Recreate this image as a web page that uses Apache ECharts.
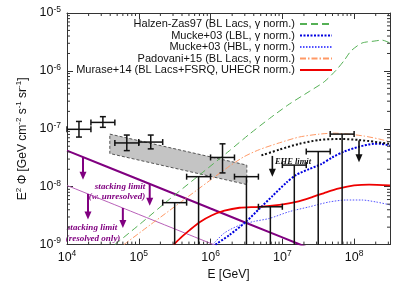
<!DOCTYPE html>
<html><head><meta charset="utf-8">
<script src="https://cdn.jsdelivr.net/npm/echarts@6/dist/echarts.min.js"></script>
<style>html,body{margin:0;padding:0;background:#fff}#c{width:407px;height:286px}</style>
</head><body><div id="c"></div>
<script>
// ---------- data ----------
const binLow  = [1e4, 2.154e4, 4.642e4, 1e5, 2.154e5, 4.642e5, 1e6, 2.154e6, 4.642e6, 1e7, 2.154e7, 4.642e7];
const binHigh = [2.154e4, 4.642e4, 1e5, 2.154e5, 4.642e5, 1e6, 2.154e6, 4.642e6, 1e7, 2.154e7, 4.642e7, 1e8];
const binMid  = [1.468e4, 3.162e4, 6.81e4, 1.468e5, 3.162e5, 6.81e5, 1.468e6, 3.162e6, 6.81e6, 1.468e7, 3.162e7, 6.81e7];
const pointBins = [0, 1, 2, 3, 6];
const pointFlux = [9.8e-8, 1.29e-7, 5.7e-8, 5.9e-8, 3.2e-8];
const pointFluxLow = [7.2e-8, 1.06e-7, 4.2e-8, 4.5e-8, 1.73e-8];
const pointFluxHigh = [1.34e-7, 1.62e-7, 7.8e-8, 7.8e-8, 5.5e-8];
const limitBins = [4, 5, 7, 8, 9, 10, 11];
const limitFlux = [5.3e-9, 1.49e-8, 1.49e-8, 4.5e-9, 2.36e-8, 4.05e-8, 8.1e-8];

const bandE = [3.95e4, 3.2e6];
const bandUpper = [8.1e-8, 2.36e-8];
const bandLower = [3.74e-8, 1.09e-8];

const halzenE = [4.64e4, 1.03e5, 2.70e5, 7.03e5, 1.84e6, 3.48e6, 6.60e6, 1.25e7, 2.37e7, 3.83e7, 5.62e7, 7.26e7, 9.08e7, 1.29e8, 1.90e8, 2.45e8, 3.16e8];
const halzenFlux = [1.0e-9, 2.24e-9, 6.12e-9, 1.60e-8, 4.20e-8, 8.09e-8, 1.50e-7, 2.67e-7, 4.41e-7, 6.48e-7, 1.03e-6, 1.51e-6, 2.22e-6, 3.03e-6, 3.27e-6, 3.40e-6, 3.03e-6];
const lblE = [1.17e6, 1.84e6, 3.16e6, 4.79e6, 7.26e6, 1.14e7, 1.56e7, 2.37e7, 3.48e7, 4.95e7, 7.26e7, 1.17e8, 1.90e8, 2.37e8, 3.16e8];
const lblFlux = [1.0e-9, 1.47e-9, 2.52e-9, 4.16e-9, 6.87e-9, 1.18e-8, 1.60e-8, 2.02e-8, 2.45e-8, 3.21e-8, 4.04e-8, 4.90e-8, 5.50e-8, 5.50e-8, 5.10e-8];
const hblE = [1.07e6, 1.56e6, 2.53e6, 4.08e6, 6.60e6, 1.25e7, 2.37e7, 4.50e7, 7.74e7, 1.29e8, 2.02e8, 3.16e8];
const hblFlux = [1.0e-9, 1.59e-9, 2.16e-9, 2.52e-9, 2.83e-9, 3.71e-9, 4.49e-9, 5.45e-9, 5.89e-9, 5.89e-9, 5.45e-9, 4.86e-9];
const padovaniE = [6.19e4, 1.42e5, 3.71e5, 9.68e5, 1.84e6, 2.97e6, 4.79e6, 9.08e6, 1.72e7, 3.27e7, 5.27e7, 8.52e7, 1.38e8, 2.22e8, 3.16e8];
const padovaniFlux = [1.0e-9, 2.16e-9, 5.24e-9, 1.27e-8, 2.27e-8, 3.33e-8, 4.37e-8, 5.72e-8, 7.21e-8, 8.09e-8, 8.41e-8, 8.09e-8, 7.49e-8, 6.67e-8, 5.95e-8];
const muraseE = [3.06e5, 3.96e5, 5.11e5, 7.03e5, 1.03e6, 1.56e6, 2.53e6, 4.79e6, 9.08e6, 1.56e7, 2.61e7, 4.08e7, 6.19e7, 1.0e8, 1.62e8, 3.16e8];
const muraseFlux = [1.0e-9, 1.36e-9, 1.78e-9, 2.43e-9, 3.18e-9, 3.85e-9, 4.33e-9, 4.49e-9, 4.86e-9, 5.45e-9, 6.61e-9, 8.01e-9, 9.35e-9, 1.05e-8, 1.09e-8, 1.05e-8];
const eheE = [5.11e6, 9.08e6, 1.72e7, 3.27e7, 6.19e7, 1.17e8, 3.16e8];
const eheFlux = [3.47e-8, 4.37e-8, 5.50e-8, 6.42e-8, 6.67e-8, 6.42e-8, 5.50e-8];

const stackAllE = [1e4, 1e5, 1e6, 1e7, 3e7];
const stackAllFlux = [4.2e-8, 1.33e-8, 4.2e-9, 1.33e-9, 7.7e-10];
const stackResE = [1e4, 1e5, 1e6, 3e6];
const stackResFlux = [1.05e-8, 3.32e-9, 1.05e-9, 6.1e-10];

const purpleArrowE = [1.67e4, 1.42e5, 1.96e4, 6.0e4];
const purpleArrowFrom = [3.25e-8, 1.115e-8, 7.5e-9, 4.29e-9];
const purpleArrowTo = [1.32e-8, 4.67e-9, 2.72e-9, 1.93e-9];
const blackArrowE = [7.26e6, 1.17e8];
const blackArrowFrom = [3.4e-8, 6.3e-8];
const blackArrowTo = [1.48e-8, 2.65e-8];

const legendNames = [
  'Halzen-Zas97 (BL Lacs, \u03b3 norm.)',
  'Mucke+03 (LBL, \u03b3 norm.)',
  'Mucke+03 (HBL, \u03b3 norm.)',
  'Padovani+15 (BL Lacs, \u03b3 norm.)',
  'Murase+14 (BL Lacs+FSRQ, UHECR norm.)'
];
const minorMult = [2, 3, 4, 5, 6, 7, 8, 9];
const xDecades = [1e4, 1e5, 1e6, 1e7, 1e8];
const yDecades = [1e-9, 1e-8, 1e-7, 1e-6];
// -------------------------------------------------

const FONT = '"Liberation Sans", Arial, Helvetica, sans-serif';
const SERIF = '"Liberation Serif", "Times New Roman", serif';
const X_MIN = 1e4, X_MAX = 3.1623e8, Y_MIN = 1e-9, Y_MAX = 1e-5;
const zip = (a, b) => a.map((v, i) => [v, b[i]]);

function powLabel(v) {
  const e = Math.log10(v), r = Math.round(e);
  if (Math.abs(e - r) > 1e-6) return '';
  return '{b|10}{e|' + r + '}';
}
const richLab = {
  b: {fontSize: 12.5, fontFamily: FONT, color: '#111', lineHeight: 16},
  e: {fontSize: 8.5, fontFamily: FONT, color: '#111', verticalAlign: 'top', lineHeight: 10}
};

function curve(name, data, color, width, type, z) {
  return {type: 'line', name, data, symbol: 'none', showSymbol: false, smooth: 0.25,
    lineStyle: {color, width, type}, itemStyle: {color}, z: z || 3, clip: true, silent: true, animation: false};
}

function seg(x1, y1, x2, y2, st) { return {type: 'line', shape: {x1, y1, x2, y2}, style: st}; }

function renderPoint(params, api) {
  const y = api.value(3);
  const lo = api.coord([api.value(0), y]), hi = api.coord([api.value(1), y]);
  const c = api.coord([api.value(2), y]);
  const yl = api.coord([api.value(2), api.value(4)]), yh = api.coord([api.value(2), api.value(5)]);
  const cap = 3, st = {stroke: '#111', lineWidth: 1.5};
  return {type: 'group', children: [
    seg(lo[0], c[1], hi[0], c[1], st), seg(lo[0], c[1] - cap, lo[0], c[1] + cap, st), seg(hi[0], c[1] - cap, hi[0], c[1] + cap, st),
    seg(c[0], yl[1], c[0], yh[1], st), seg(c[0] - cap, yl[1], c[0] + cap, yl[1], st), seg(c[0] - cap, yh[1], c[0] + cap, yh[1], st)
  ]};
}
function renderLimit(params, api) {
  const y = api.value(3);
  const lo = api.coord([api.value(0), y]), hi = api.coord([api.value(1), y]);
  const c = api.coord([api.value(2), y]);
  const bottom = params.coordSys.y + params.coordSys.height;
  const cap = 3, st = {stroke: '#111', lineWidth: 1.5};
  return {type: 'group', children: [
    seg(lo[0], c[1], hi[0], c[1], st), seg(lo[0], c[1] - cap, lo[0], c[1] + cap, st), seg(hi[0], c[1] - cap, hi[0], c[1] + cap, st),
    seg(c[0], c[1], c[0], bottom, st)
  ]};
}
function arrowRenderer(color, w) {
  return function (params, api) {
    const p0 = api.coord([api.value(0), api.value(1)]);
    const p1 = api.coord([api.value(0), api.value(2)]);
    const hl = 8, hw = 3.5;
    return {type: 'group', children: [
      seg(p0[0], p0[1], p1[0], p1[1] - hl + 1, {stroke: color, lineWidth: w}),
      {type: 'polygon', shape: {points: [[p1[0] - hw, p1[1] - hl], [p1[0] + hw, p1[1] - hl], [p1[0], p1[1]]]}, style: {fill: color}}
    ]};
  };
}
function renderBand(params, api) {
  const pts = [
    api.coord([api.value(0), api.value(2)]), api.coord([api.value(1), api.value(3)]),
    api.coord([api.value(1), api.value(5)]), api.coord([api.value(0), api.value(4)])
  ];
  return {type: 'polygon', shape: {points: pts}, style: {fill: '#c4c4c4', stroke: '#555', lineWidth: 1, lineDash: [3, 2]}};
}
function renderMinor(params, api) {
  const cs = params.coordSys;
  const p = api.coord([api.value(0), api.value(1)]);
  const L = 3, st = {stroke: '#333', lineWidth: 1};
  if (api.value(2) === 0) {
    return {type: 'group', children: [seg(p[0], cs.y + cs.height, p[0], cs.y + cs.height - L, st), seg(p[0], cs.y, p[0], cs.y + L, st)]};
  }
  return {type: 'group', children: [seg(cs.x, p[1], cs.x + L, p[1], st), seg(cs.x + cs.width, p[1], cs.x + cs.width - L, p[1], st)]};
}

const minorData = [];
xDecades.forEach(d => minorMult.forEach(m => { if (d * m < X_MAX) minorData.push([d * m, 1e-7, 0]); }));
yDecades.forEach(d => minorMult.forEach(m => { if (d * m < Y_MAX) minorData.push([1e5, d * m, 1]); }));

const pointData = pointBins.map((b, i) => [binLow[b], binHigh[b], binMid[b], pointFlux[i], pointFluxLow[i], pointFluxHigh[i]]);
const limitData = limitBins.map((b, i) => [binLow[b], binHigh[b], binMid[b], limitFlux[i]]);
const bandData = [[bandE[0], bandE[1], bandUpper[0], bandUpper[1], bandLower[0], bandLower[1]]];
const purpleThickArrows = [0, 1].map(i => [purpleArrowE[i], purpleArrowFrom[i], purpleArrowTo[i]]);
const purpleThinArrows = [2, 3].map(i => [purpleArrowE[i], purpleArrowFrom[i], purpleArrowTo[i]]);
const blackArrows = blackArrowE.map((e, i) => [e, blackArrowFrom[i], blackArrowTo[i]]);

const axisLineStyle = {show: true, lineStyle: {color: '#333', width: 1}};
const tickStyle = {show: true, inside: true, length: 6, lineStyle: {color: '#333', width: 1}};
const xBase = {type: 'log', logBase: 10, min: X_MIN, max: X_MAX, axisLine: axisLineStyle, axisTick: tickStyle, splitLine: {show: false}};
const yBase = {type: 'log', logBase: 10, min: Y_MIN, max: Y_MAX, axisLine: axisLineStyle, axisTick: tickStyle, splitLine: {show: false}};

const legendTop = [18, 29.5, 41, 52.5, 64];

const option = {
  animation: false,
  backgroundColor: '#fff',
  grid: {left: 67, right: 17, top: 13, bottom: 34, containLabel: false},
  legend: legendNames.map((n, i) => ({
    data: [n], right: 74, top: legendTop[i], orient: 'vertical', align: 'right', padding: 0,
    itemWidth: 32, itemHeight: 8, selectedMode: false,
    itemStyle: {opacity: 0, borderWidth: 0},
    textStyle: {fontSize: 11, fontFamily: FONT, color: '#111', lineHeight: 12}
  })),
  xAxis: [
    Object.assign({}, xBase, {position: 'bottom',
      axisLabel: {formatter: powLabel, rich: richLab, margin: 5, showMaxLabel: false},
      name: 'E [GeV]', nameLocation: 'middle', nameGap: 19,
      nameTextStyle: {fontSize: 12, fontFamily: FONT, color: '#111'}}),
    Object.assign({}, xBase, {position: 'top', axisLabel: {show: false}})
  ],
  yAxis: [
    Object.assign({}, yBase, {position: 'left',
      axisLabel: {formatter: powLabel, rich: richLab, margin: 6},
      name: '{n|E}{s|2}{n| \u03a6 [GeV cm}{s|-2}{n| s}{s|-1}{n| sr}{s|-1}{n|]}{p| }',
      nameLocation: 'middle', nameRotate: 90, nameGap: 37,
      nameTextStyle: {rich: {
        n: {fontSize: 12, fontFamily: FONT, color: '#111', lineHeight: 15},
        s: {fontSize: 8, fontFamily: FONT, color: '#111', verticalAlign: 'top', lineHeight: 9},
        p: {width: 20, fontSize: 12, lineHeight: 15}
      }}}),
    Object.assign({}, yBase, {position: 'right', axisLabel: {show: false}})
  ],
  graphic: [
    {type: 'text', x: 120, y: 187, style: {text: 'stacking limit', fontSize: 9, fontStyle: 'italic', fontWeight: 'bold', fontFamily: SERIF, fill: '#800080', align: 'center', verticalAlign: 'middle'}},
    {type: 'text', x: 117, y: 196.5, style: {text: '(w. unresolved)', fontSize: 9, fontStyle: 'italic', fontWeight: 'bold', fontFamily: SERIF, fill: '#800080', align: 'center', verticalAlign: 'middle'}},
    {type: 'text', x: 92, y: 228, style: {text: 'stacking limit', fontSize: 9, fontStyle: 'italic', fontWeight: 'bold', fontFamily: SERIF, fill: '#800080', align: 'center', verticalAlign: 'middle'}},
    {type: 'text', x: 93, y: 239, style: {text: '(resolved only)', fontSize: 9, fontStyle: 'italic', fontWeight: 'bold', fontFamily: SERIF, fill: '#800080', align: 'center', verticalAlign: 'middle'}},
    {type: 'text', x: 293, y: 162, style: {text: 'EHE limit', fontSize: 8.5, fontStyle: 'italic', fontWeight: 'bold', fontFamily: SERIF, fill: '#111', align: 'center', verticalAlign: 'middle'}}
  ],
  series: [
    {type: 'custom', name: 'band', renderItem: renderBand, data: bandData, encode: {x: [0, 1], y: [2, 3, 4, 5]}, z: 1, clip: true, silent: true},
    curve('stackAll', zip(stackAllE, stackAllFlux), '#800080', 2, 'solid', 2),
    curve('stackRes', zip(stackResE, stackResFlux), '#b860b8', 1, 'solid', 2),
    curve(legendNames[0], zip(halzenE, halzenFlux), '#55b055', 1, [7, 4]),
    curve(legendNames[1], zip(lblE, lblFlux), '#0000e0', 2, [2, 1.5]),
    curve(legendNames[2], zip(hblE, hblFlux), '#5050ff', 1, [1.5, 1.5]),
    curve(legendNames[3], zip(padovaniE, padovaniFlux), '#ff9966', 1, [6, 2, 1.5, 2]),
    curve(legendNames[4], zip(muraseE, muraseFlux), '#ee0000', 1.8, 'solid'),
    curve('EHE', zip(eheE, eheFlux), '#111', 2, [2, 2]),
    {type: 'custom', name: 'purpleArrowsThick', renderItem: arrowRenderer('#800080', 2), data: purpleThickArrows, encode: {x: 0, y: [1, 2]}, z: 4, silent: true},
    {type: 'custom', name: 'purpleArrowsThin', renderItem: arrowRenderer('#800080', 2), data: purpleThinArrows, encode: {x: 0, y: [1, 2]}, z: 4, silent: true},
    {type: 'custom', name: 'blackArrows', renderItem: arrowRenderer('#111', 1.6), data: blackArrows, encode: {x: 0, y: [1, 2]}, z: 4, silent: true},
    {type: 'custom', name: 'points', renderItem: renderPoint, data: pointData, encode: {x: [0, 1, 2], y: [3, 4, 5]}, z: 5, silent: true},
    {type: 'custom', name: 'limits', renderItem: renderLimit, data: limitData, encode: {x: [0, 1, 2], y: [3]}, z: 5, silent: true},
    {type: 'custom', name: 'minorTicks', renderItem: renderMinor, data: minorData, encode: {x: 0, y: 1}, z: 6, silent: true}
  ]
};
const chart = echarts.init(document.getElementById('c'), null, {renderer: 'canvas'});
chart.setOption(option);
</script>
</body></html>
